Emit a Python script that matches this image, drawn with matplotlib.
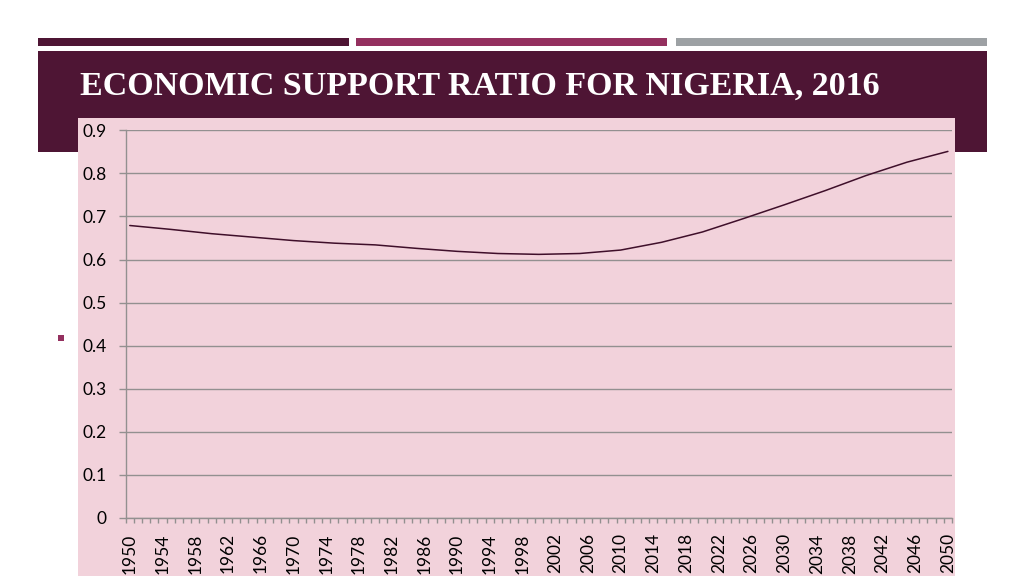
import matplotlib
matplotlib.use("Agg")
import matplotlib.pyplot as plt
from matplotlib.patches import Rectangle
import numpy as np

# ---- data ----
years = [1950, 1955, 1960, 1965, 1970, 1975, 1980, 1985, 1990, 1995, 2000,
         2005, 2010, 2015, 2020, 2025, 2030, 2035, 2040, 2045, 2050]
support_ratio = [0.679, 0.670, 0.660, 0.652, 0.644, 0.638, 0.634, 0.626, 0.619, 0.614, 0.612,
                 0.614, 0.622, 0.640, 0.664, 0.695, 0.727, 0.760, 0.795, 0.826, 0.851]
first_year, last_year = 1950, 2050
label_years = list(range(1950, 2051, 4))
y_ticks = [0, 0.1, 0.2, 0.3, 0.4, 0.5, 0.6, 0.7, 0.8, 0.9]
y_tick_labels = ["0", "0.1", "0.2", "0.3", "0.4", "0.5", "0.6", "0.7", "0.8", "0.9"]
title = "ECONOMIC SUPPORT RATIO FOR NIGERIA, 2016"

# ---- styling ----
MAROON = "#4E1534"
MAGENTA = "#94305F"
GREY_BAR = "#9DA1A4"
PINK = "#F2D2DB"
GRID = "#939090"
LINE = "#3F0F2A"

W, H = 1024, 576
fig = plt.figure(figsize=(W / 100, H / 100), dpi=100)
fig.patch.set_facecolor("white")


def rect(x0, y0, x1, y1, color, z):
    fig.patches.append(Rectangle((x0 / W, 1 - y1 / H), (x1 - x0) / W, (y1 - y0) / H,
                                 transform=fig.transFigure, facecolor=color,
                                 edgecolor="none", zorder=z))


# top decorative bars
rect(38, 38, 349, 46, MAROON, -10)
rect(356, 38, 667, 46, MAGENTA, -10)
rect(676, 38, 987, 46, GREY_BAR, -10)
# header block
rect(38, 51, 987, 152, MAROON, -10)
# pink chart panel
rect(78, 118, 955, 576, PINK, -9)
# bullet
rect(57.5, 335, 63.5, 341, MAGENTA, -9)

fig.text(80 / W, 1 - 95 / H, title, family="Liberation Serif", fontweight="bold",
         fontsize=24.5, color="white", ha="left", va="baseline")

# ---- chart ----
left, right, top, bottom = 125.7, 952, 130.3, 518
ax = fig.add_axes([left / W, 1 - bottom / H, (right - left) / W, (bottom - top) / H])
ax.set_facecolor("none")

xpos = [y - first_year for y in years]
ax.plot(xpos, support_ratio, color=LINE, lw=1.1, solid_capstyle="round")

n_cat = last_year - first_year + 1
ax.set_xlim(-0.5, n_cat - 0.5)
ax.set_ylim(0, 0.9)

ax.set_yticks(y_ticks)
ax.set_yticklabels(y_tick_labels)
ax.yaxis.grid(True, color=GRID, lw=1.0)
ax.set_axisbelow(True)
ax.tick_params(axis="y", length=5, width=1.0, color=GRID, pad=8.5,
               labelsize=12.5, labelcolor="black")

ax.set_xticks([y - first_year for y in label_years])
ax.set_xticklabels([str(y) for y in label_years], rotation=90, va="top", ha="center")
ax.set_xticks(np.arange(-0.5, n_cat, 1), minor=True)
ax.tick_params(axis="x", which="major", length=0, pad=11, labelsize=12.5, labelcolor="black")
ax.tick_params(axis="x", which="minor", length=3.8, width=1.0, color=GRID)

for s in ("top", "right"):
    ax.spines[s].set_visible(False)
for s in ("left", "bottom"):
    ax.spines[s].set_color(GRID)
    ax.spines[s].set_linewidth(1.0)

for lab in ax.get_xticklabels() + ax.get_yticklabels():
    lab.set_family("Lato")

fig.savefig("out.png", dpi=100, facecolor="white")
